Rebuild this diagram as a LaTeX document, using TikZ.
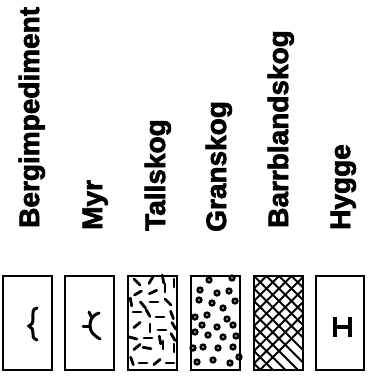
\documentclass[tikz,border=0pt]{standalone}
\usepackage{fontspec}
\setmainfont{Liberation Sans}
\newfontfamily\labfont{Liberation Sans Bold}[FakeBold=2.5]
\usetikzlibrary{calc}
\begin{document}
\begin{tikzpicture}[x=1pt,y=-1pt,
  legbox/.style={draw=black,line width=1.4pt},
  lab/.style={rotate=90,anchor=base west,inner sep=0pt,font=\fontsize{28}{28}\selectfont\labfont},
  sym/.style={line width=3pt,line cap=round},
  needle/.style={line width=2.8pt,line cap=round},
  dotring/.style={draw=black,line width=2.6pt}]
\useasboundingbox (0,0) rectangle (374,383);
\fill[white] (0,0) rectangle (374,383);
% labels
\node[lab] (l1) at (39,228) {Bergimpediment};
\node[lab] (l2) at (102,230) {Myr};
\node[lab] (l3) at (165,231) {Tallskog};
\node[lab] (l4) at (226,232) {Granskog};
\node[lab] (l5) at (288,228) {Barrblandskog};
\node[lab] (l6) at (350,230) {Hygge};
% boxes
\coordinate (b1a) at (3,276);   \coordinate (b1b) at (52,370);
\coordinate (b2a) at (65,276);  \coordinate (b2b) at (114,370);
\coordinate (b3a) at (128,276); \coordinate (b3b) at (177,370);
\coordinate (b4a) at (191,276); \coordinate (b4b) at (240,370);
\coordinate (b5a) at (254,276); \coordinate (b5b) at (303,370);
\coordinate (b6a) at (316,276); \coordinate (b6b) at (364,370);
% box 1 symbol
\draw[sym] (37,308) .. controls (32,309) and (33,313) .. (33,318) .. controls (33,323) and (32,325) .. (29,326) .. controls (32,327) and (33,330) .. (33,334) .. controls (33,338) and (34,339) .. (37,340);
% box 2 symbol
\draw[sym] (99,313) .. controls (91,316) and (90,321) .. (90,326) .. controls (90,331) and (93,335) .. (100,339);
\draw[sym] (83,326) -- (90,326);
\draw[sym] (89,312) -- (92,318);
% box 3 needles
\foreach \x/\y/\a in {137/282/45,151/280/-60,163/279/80,174/283/90,
  138/293/-30,153/292/-25,165/288/90,131/302/80,143/305/50,154/302/0,168/302/45,
  137/312/0,148/313/60,160/317/0,172/315/70,
  137/325/-40,150/328/90,162/330/0,174/326/60,
  133/338/15,148/338/0,160/340/80,173/337/60,
  137/347/-40,147/348/10,163/345/90,174/348/90,
  132/361/70,143/363/0,157/362/-40,170/363/0}
  {\draw[needle] ($(\x,\y)+(\a:4)$) -- ($(\x,\y)+(\a+180:4)$);}
% box 4 dots
\foreach \x/\y in {209/280,232/278,200/290,217/293,229/291,199/300,212/303,235/301,
  223/308,195/317,207/315,227/319,202/325,217/327,233/325,195/332,208/335,223/337,
  236/336,193/348,203/347,218/348,233/347,197/362,213/360,230/363,239/357}
  {\draw[dotring] (\x,\y) circle (2.3pt);}
% box 5 crosshatch
\begin{scope}
\clip (b5a) rectangle (b5b);
\foreach \k in {-8,...,8}{
  \draw[line width=2pt] (254+\k*12.5,276) -- ++(100,100);
  \draw[line width=2pt] (254+\k*12.5,276) -- ++(-100,100);
}
\end{scope}
% box 6 H
\draw[line width=4.5pt] (334,327) -- (351,327);
\draw[line width=4pt] (335,317) -- (335,337);
\draw[line width=4pt] (350,317) -- (350,337);
% outlines
\foreach \i in {1,...,6}{\draw[legbox] (b\i a) rectangle (b\i b);}
\end{tikzpicture}
\end{document}
